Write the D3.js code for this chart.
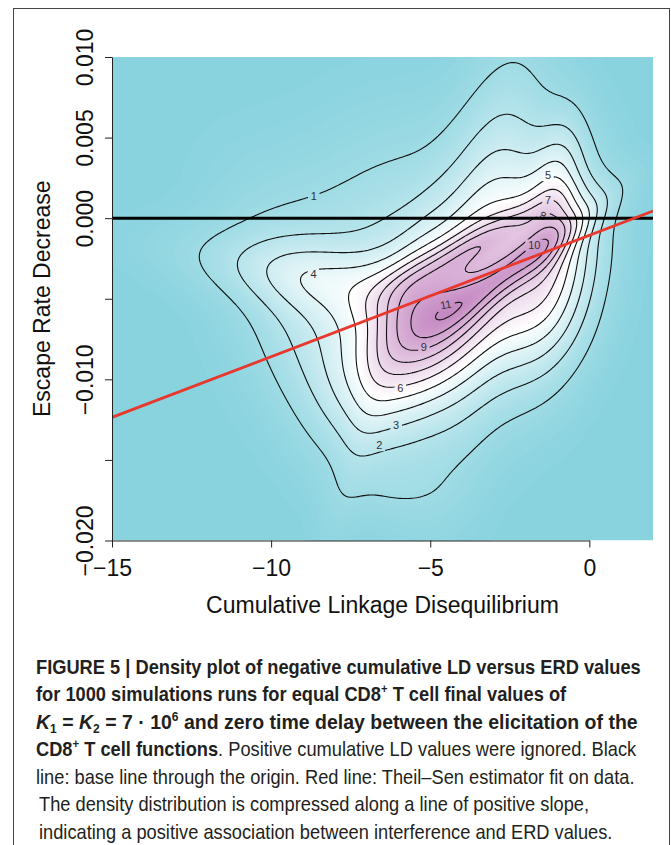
<!DOCTYPE html>
<html>
<head>
<meta charset="utf-8">
<script src="https://d3js.org/d3.v7.min.js"></script>
<style>
  body { margin: 0; background: #fff; }
  .axis text { font-family: "Liberation Sans", Arial, sans-serif; font-size: 23px; fill: #111; }
  .axis line, .axis path { stroke: #222; }
  .axis__title { font-family: "Liberation Sans", Arial, sans-serif; font-size: 23px; fill: #111; }
  .clabel { font-family: "Liberation Sans", Arial, sans-serif; font-size: 11px; fill: #333; }
  .caption { font-family: "Liberation Sans Narrow", "Liberation Sans", Arial, sans-serif; font-size: 21px; fill: #231f20; }
</style>
</head>
<body>
<svg width="671" height="845"></svg>
<script>
// axes
const xTicks = [-15, -10, -5, 0];
const yTicks = [-0.020, -0.015, -0.010, -0.005, 0.000, 0.005, 0.010];
const yTickLabels = ["\u22120.020", "", "\u22120.010", "", "0.000", "0.005", "0.010"];
const contourLevels = [1, 2, 3, 4, 5, 6, 7, 8, 9, 10, 11];

// density surface, as a sum of gaussian bumps:
// centre (LD, ERD), sd along / across the bump (LD units, ERD in ERD_UNIT), angle, height
const ERD_UNIT = 0.002;
const kernelLD     = [-1.40, -5.32, -3.38, -2.13, -5.66, -8.30, -3.30, -7.02, -8.13, -1.05, -6.10];
const kernelERD    = [-0.00321, -0.00684, -0.00152, -0.00272, -0.00306, -0.00388, -0.00191, -0.01262, -0.00842, 0.00185, -0.01699];
const kernelMajor  = [2.21, 1.87, 1.89, 2.00, 2.80, 2.97, 0.99, 4.67, 1.38, 1.57, 1.30];
const kernelMinor  = [1.08, 1.15, 0.37, 0.38, 2.54, 0.77, 3.76, 0.45, 3.21, 0.53, 0.50];
const kernelAngle  = [80.1, 60.5, 27.8, 36.4, 67.9, -11.2, -9.7, 73.1, 27.4, 80.9, 0];
const kernelHeight = [5.38, 6.80, 2.24, 3.28, 2.10, 1.91, 3.04, 0.42, 1.76, 1.98, 0.25];

// contour labels
const labelLevel = [1, 2, 3, 4, 5, 6, 7, 8, 9, 10, 11];
const labelLD    = [-8.66, -6.60, -6.07, -8.67, -1.30, -5.94, -1.30, -1.46, -5.20, -1.73, -4.51];
const labelERD   = [0.00139, -0.01409, -0.01286, -0.00345, 0.00266, -0.01053, 0.00114, 0.00016, -0.00802, -0.00169, -0.00537];
const labelAngle = [0, 0, 0, 0, 0, 0, 0, 20, 0, 0, -10];

// Theil-Sen fit end points and base line
const fitLD  = [-15, 2];
const fitERD = [-0.01236, 0.00044];
const baseERD = 0;

const svg = d3.select("svg");
const x = d3.scaleLinear().domain([-15, 2]).range([112, 653]);
const y = d3.scaleLinear().domain([-0.020, 0.010]).range([540.5, 57]);

function density(ld, erd) {
  const w = erd / ERD_UNIT;
  let s = 0;
  for (let k = 0; k < kernelLD.length; k++) {
    const t = kernelAngle[k] * Math.PI / 180, c = Math.cos(t), sn = Math.sin(t);
    const dx = ld - kernelLD[k], dy = w - kernelERD[k] / ERD_UNIT;
    const a = (dx * c + dy * sn) / kernelMajor[k], b = (-dx * sn + dy * c) / kernelMinor[k];
    s += kernelHeight[k] * Math.exp(-0.5 * (a * a + b * b));
  }
  return s;
}

const color = d3.scaleLinear()
  .domain([0, 5.2, 11.3])
  .range(["#89d3df", "#ffffff", "#c486c1"])
  .clamp(true);

// frame
svg.append("rect")
  .attr("x", 13.5).attr("y", 8.5).attr("width", 656).attr("height", 845)
  .attr("fill", "none").attr("stroke", "#444").attr("stroke-width", 1);

// density grid
const [px0, px1] = x.range(), [py1, py0] = y.range();
const step = 2;
const nx = Math.ceil((px1 - px0) / step) + 1, ny = Math.ceil((py1 - py0) / step) + 1;
const values = new Float64Array(nx * ny);
for (let j = 0; j < ny; j++) for (let i = 0; i < nx; i++) {
  values[j * nx + i] = density(x.invert(px0 + i * step), y.invert(py0 + j * step));
}
const path = d3.geoPath(d3.geoIdentity().scale(step).translate([px0 - step / 2, py0 - step / 2]));

svg.append("defs").append("clipPath").attr("id", "plotclip")
  .append("rect").attr("x", px0).attr("y", py0).attr("width", px1 - px0).attr("height", py1 - py0);

const plot = svg.append("g").attr("clip-path", "url(#plotclip)");
plot.append("rect").attr("x", px0).attr("y", py0).attr("width", px1 - px0).attr("height", py1 - py0)
  .attr("fill", color(0));

const bandThresholds = d3.range(0.1, 11.8, 0.1);
plot.append("g").selectAll("path")
  .data(d3.contours().size([nx, ny]).thresholds(bandThresholds)(values))
  .join("path")
    .attr("d", path)
    .attr("fill", d => color(d.value + 0.05));

// mask out the line behind each contour label
const mask = svg.select("defs").append("mask").attr("id", "labelmask")
  .attr("maskUnits", "userSpaceOnUse").attr("x", 0).attr("y", 0).attr("width", 671).attr("height", 845);
mask.append("rect").attr("width", 671).attr("height", 845).attr("fill", "#fff");
labelLevel.forEach((lvl, i) => {
  const w = String(lvl).length * 6.5 + 5;
  mask.append("rect")
    .attr("x", -w / 2).attr("y", -6).attr("width", w).attr("height", 12)
    .attr("transform", `translate(${x(labelLD[i])},${y(labelERD[i])}) rotate(${labelAngle[i]})`)
    .attr("fill", "#000");
});

plot.append("g").attr("mask", "url(#labelmask)").selectAll("path")
  .data(d3.contours().size([nx, ny]).thresholds(contourLevels)(values))
  .join("path")
    .attr("d", path)
    .attr("fill", "none")
    .attr("stroke", "#111")
    .attr("stroke-width", 1.1);

plot.append("g").selectAll("text")
  .data(labelLevel)
  .join("text")
    .attr("class", "clabel")
    .attr("text-anchor", "middle")
    .attr("dy", "0.35em")
    .attr("transform", (d, i) => `translate(${x(labelLD[i])},${y(labelERD[i])}) rotate(${labelAngle[i]})`)
    .text(d => d);

// base line and Theil-Sen line
plot.append("line")
  .attr("x1", px0).attr("x2", px1).attr("y1", y(baseERD)).attr("y2", y(baseERD))
  .attr("stroke", "#000").attr("stroke-width", 3);
plot.append("line")
  .attr("x1", x(fitLD[0])).attr("y1", y(fitERD[0]))
  .attr("x2", x(fitLD[1])).attr("y2", y(fitERD[1]))
  .attr("stroke", "#e8382d").attr("stroke-width", 2.8);

// axes
const xAxis = svg.append("g")
  .attr("class", "axis")
  .attr("transform", `translate(0,${py1})`)
  .call(d3.axisBottom(x).tickValues(xTicks).tickSize(7).tickPadding(12)
    .tickFormat(d => d3.format("d")(d).replace("-", "\u2212")));
xAxis.select(".domain").remove();
xAxis.append("line")
  .attr("x1", x(xTicks[0]) + 0.5).attr("x2", x(xTicks[xTicks.length - 1]) + 0.5)
  .attr("y1", 0.5).attr("y2", 0.5).attr("stroke", "#222");

const yAxis = svg.append("g")
  .attr("class", "axis")
  .attr("transform", `translate(${px0},0)`)
  .call(d3.axisLeft(y).tickValues(yTicks).tickSize(7).tickSizeOuter(0)
    .tickFormat((d, i) => yTickLabels[i]));
yAxis.selectAll(".tick text")
  .attr("x", null).attr("dy", null)
  .attr("text-anchor", "middle")
  .attr("transform", "translate(-19,0) rotate(-90)");

svg.append("text")
  .attr("class", "axis__title")
  .attr("text-anchor", "middle")
  .attr("x", (px0 + px1) / 2).attr("y", 613)
  .text("Cumulative Linkage Disequilibrium");
svg.append("text")
  .attr("class", "axis__title")
  .attr("text-anchor", "middle")
  .attr("transform", `translate(50,${(py0 + py1) / 2}) rotate(-90)`)
  .text("Escape Rate Decrease");

// caption, one common horizontal squeeze taken from the first line
const captionLines = [
  { x: 36, y: 674, parts: [["FIGURE 5 | Density plot of negative cumulative LD versus ERD values", "b"]] },
  { x: 36, y: 701.5, parts: [["for 1000 simulations runs for equal CD8", "b"], ["+", "b sup"], [" T cell final values of", "b"]] },
  { x: 36, y: 729, end: 638, parts: [["K", "b i"], ["1", "b sub"], [" = ", "b"], ["K", "b i"], ["2", "b sub"], [" = 7 \u00b7 10", "b"], ["6", "b sup"], [" and zero time delay between the elicitation of the", "b"]] },
  { x: 36, y: 756.5, parts: [["CD8", "b"], ["+", "b sup"], [" T cell functions", "b"], [". Positive cumulative LD values were ignored. Black", ""]] },
  { x: 36, y: 784, parts: [["line: base line through the origin. Red line: Theil\u2013Sen estimator fit on data.", ""]] },
  { x: 39, y: 811.5, parts: [["The density distribution is compressed along a line of positive slope,", ""]] },
  { x: 39, y: 839, parts: [["indicating a positive association between interference and ERD values.", ""]] }
];
const captionTexts = captionLines.map(line => {
  const t = svg.append("text").attr("class", "caption").attr("x", line.x).attr("y", line.y);
  let shift = 0;
  line.parts.forEach(([str, style]) => {
    const s = t.append("tspan").text(str);
    if (style.includes("b")) s.attr("font-weight", "bold");
    if (style.includes("i")) s.attr("font-style", "italic");
    let target = 0;
    if (style.includes("sup")) target = -8;
    if (style.includes("sub")) target = 4;
    if (target !== shift) { s.attr("dy", target - shift); shift = target; }
    if (style.includes("sup") || style.includes("sub")) s.attr("font-size", 13);
  });
  return t;
});
const squeeze = (641 - 36) / captionTexts[0].node().getComputedTextLength();
captionTexts.forEach((t, i) => {
  const line = captionLines[i];
  const k = line.end ? (line.end - line.x) / t.node().getComputedTextLength() : squeeze;
  t.attr("transform", `translate(${line.x},0) scale(${k},1) translate(${-line.x},0)`);
});
</script>
</body>
</html>
